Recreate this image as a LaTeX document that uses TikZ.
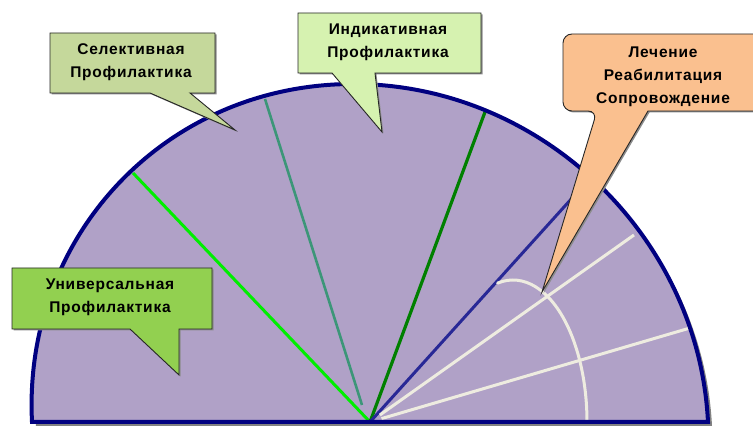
\documentclass[tikz,border=0pt]{standalone}
\usepackage{fontspec}
\usetikzlibrary{calc}
\setmainfont{Liberation Sans}
\newfontfamily\calfont[LetterSpace=5]{Liberation Sans}
\definecolor{lav}{RGB}{176,161,199}
\definecolor{navyb}{RGB}{0,0,128}
\definecolor{brgreen}{RGB}{0,238,0}
\definecolor{tealc}{RGB}{60,150,120}
\definecolor{dkgreen}{RGB}{0,128,0}
\definecolor{navyl}{RGB}{40,40,150}
\definecolor{cream}{RGB}{238,236,224}
\definecolor{selC}{RGB}{197,216,155}
\definecolor{indC}{RGB}{214,242,176}
\definecolor{treC}{RGB}{250,192,143}
\definecolor{uniC}{RGB}{146,208,80}
\definecolor{shad}{RGB}{130,130,130}
\tikzset{
  ray/.style={line width=3pt},
  callout/.style={draw=black!85, line width=0.9pt, line join=miter},
  calshadow/.style={fill=black!45},
  caltext/.style={font=\calfont\bfseries\fontsize{15.5}{23}\selectfont, align=center, inner sep=0pt},
  dome/.style={shift={(370,8)}, xslant=-0.05},
}
\begin{document}
\begin{tikzpicture}[x=1pt,y=1pt]
\useasboundingbox (0,0) rectangle (753,430);
\coordinate (O) at (370,8);
% shadow of semicircle
\begin{scope}[shift={(4,-4)}]
  \fill[shad, dome] (-338,0) arc (180:0:338) -- cycle;
\end{scope}
\fill[lav, dome] (-338,0) arc (180:0:338) -- cycle;
% ray end points
\coordinate (g1) at (133,257);
\coordinate (t0) at (362,25);
\coordinate (t1) at (265,331);
\coordinate (d1) at (485,318);
\coordinate (n1) at (592,254);
\coordinate (w1) at (634,195);
\coordinate (w3) at (690,102);
% rays
\draw[ray, brgreen] (O) -- (g1);
\draw[ray, tealc, line width=2.6pt] (t0) -- (t1);
\draw[ray, dkgreen, line width=3.2pt] (O) -- (d1);
\draw[ray, navyl] (O) -- (n1);
\draw[ray, cream] ($(O)!12pt!(w1)$) -- (w1);
\draw[ray, cream] ($(O)!12pt!(w3)$) -- (w3);
\coordinate (E) at (513,8);
\draw[ray, cream, line cap=round] ($(E)+({74*cos(102)},{142*sin(102)})$) arc[start angle=102, end angle=0, x radius=74, y radius=142];
% border
\draw[navyb, line width=4pt, line join=miter, dome] (-338,0) arc (180:0:338) -- cycle;
% Selective callout
\fill[calshadow] (51.5,395.5) -- (216.5,395.5) -- (216.5,335.5) -- (191.5,335.5) -- (236.5,298.5) -- (151.5,335.5) -- (51.5,335.5) -- cycle;
\draw[callout, fill=selC] (50,397) -- (215,397) -- (215,337) -- (190,337) -- (235,300) -- (150,337) -- (50,337) -- cycle;
\node[caltext] (sel) at (131,368) {Селективная\\Профилактика};
% Indicative callout
\fill[calshadow] (299.5,415.5) -- (482.5,415.5) -- (482.5,355.5) -- (376.5,355.5) -- (383.5,296.5) -- (333.5,355.5) -- (299.5,355.5) -- cycle;
\draw[callout, fill=indC] (298,417) -- (481,417) -- (481,357) -- (375,357) -- (382,298) -- (332,357) -- (298,357) -- cycle;
\node[caltext] (ind) at (388,387.5) {Индикативная\\Профилактика};
% Treatment callout
\fill[calshadow] (598.5,317.5) -- (543.5,136.5) -- (649.5,317.5) -- (771.5,317.5) -- (771.5,394.5) [rounded corners=9pt] -- (564.5,394.5) -- (564.5,317.5) -- cycle;
\draw[callout, fill=treC] (597,319) -- (542,138) -- (648,319) -- (770,319) -- (770,396) [rounded corners=9pt] -- (563,396) -- (563,319) -- cycle;
\node[caltext] (tre) at (663,353) {Лечение\\Реабилитация\\Сопровождение};
% Universal callout
\fill[calshadow] (13.5,160.5) -- (213.5,160.5) -- (213.5,99.5) -- (180.5,99.5) -- (180.5,53.5) -- (131.5,99.5) -- (13.5,99.5) -- cycle;
\draw[callout, fill=uniC] (12,162) -- (212,162) -- (212,101) -- (179,101) -- (179,55) -- (130,101) -- (12,101) -- cycle;
\node[caltext] (uni) at (110,133) {Универсальная\\Профилактика};
\end{tikzpicture}
\end{document}
